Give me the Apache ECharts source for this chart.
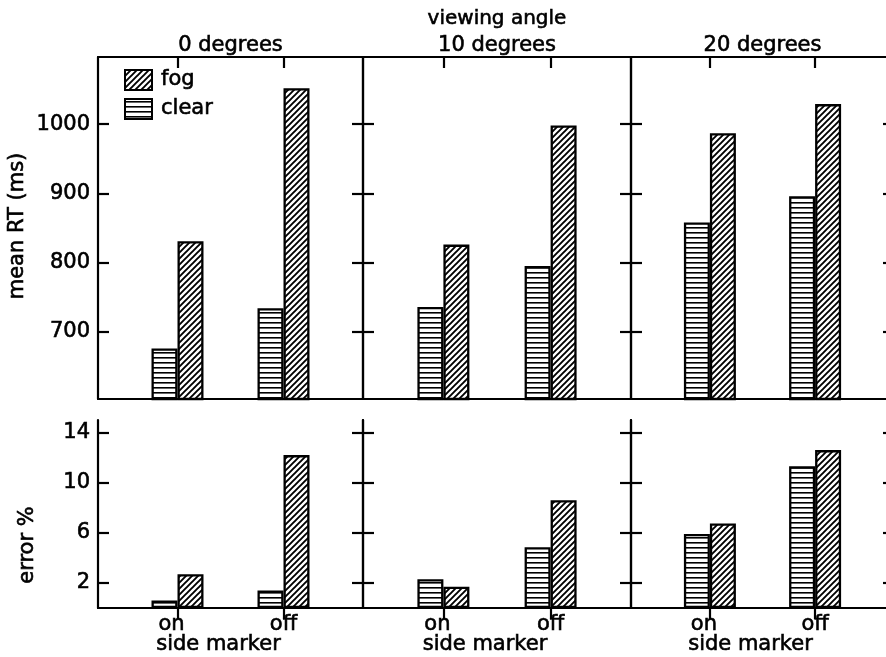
<!DOCTYPE html>
<html>
<head>
<meta charset="utf-8">
<script src="https://cdn.jsdelivr.net/npm/echarts@6/dist/echarts.min.js"></script>
<style>
html, body { margin: 0; padding: 0; background: #fff; }
#chart { width: 886px; height: 657px; }
</style>
</head>
<body>
<div id="chart"></div>
<script>
// data
var angles = ["0 degrees", "10 degrees", "20 degrees"];
var markerCats = ["", "on", "", "off", ""];
var legendNames = ["fog", "clear"];

// mean RT (ms), per viewing angle: [on, off]
var rtClear = [[676, 734], [736, 795], [858, 896]];
var rtFog = [[831, 1052], [826, 998], [987, 1029]];

// error %, per viewing angle: [on, off]
var errClear = [[0.6, 1.4], [2.3, 4.85], [5.9, 11.3]];
var errFog = [[2.7, 12.2], [1.7, 8.6], [6.75, 12.6]];

var rtTicks = [700, 800, 900, 1000];
var errTicks = [2, 6, 10, 14];

var FONT = "DejaVu Sans";
var colLeft = [98, 363, 631];
var colWidth = [265, 268, 263];
var rowTop = [57, 420];
var rowHeight = [342, 188];

// a little stroke makes the text look like the heavier print
var INK = { color: "#000", fontFamily: FONT, textBorderColor: "#000", textBorderWidth: 0.6 };

function makePattern(kind) {
	var c = document.createElement("canvas");
	var ctx;
	if (kind == "diag") {
		c.width = 6; c.height = 6;
		ctx = c.getContext("2d");
		ctx.fillStyle = "#fff";
		ctx.fillRect(0, 0, 6, 6);
		ctx.strokeStyle = "#000";
		ctx.lineWidth = 1.9;
		ctx.beginPath();
		ctx.moveTo(-1, 7); ctx.lineTo(7, -1);
		ctx.moveTo(-1, 1); ctx.lineTo(1, -1);
		ctx.moveTo(5, 7); ctx.lineTo(7, 5);
		ctx.stroke();
	} else {
		c.width = 5; c.height = 5;
		ctx = c.getContext("2d");
		ctx.fillStyle = "#fff";
		ctx.fillRect(0, 0, 5, 5);
		ctx.fillStyle = "#000";
		ctx.fillRect(0, 2, 5, 1.6);
	}
	return { image: c, repeat: "repeat" };
}

var fogFill = makePattern("diag");
var clearFill = makePattern("horiz");

// put the two values on the "on" and "off" slots
function slotData(pair) {
	return ["-", pair[0], "-", pair[1], "-"];
}

var grids = [], xAxes = [], yAxes = [], series = [];

for (var row = 0; row < 2; row++) {
	for (var col = 0; col < 3; col++) {
		var gi = grids.length;
		grids.push({
			left: colLeft[col], top: rowTop[row],
			width: colWidth[col], height: rowHeight[row],
			outerBoundsMode: "none", containLabel: false
		});

		var lineStyle = { color: "#000", width: 2.2 };

		// bottom axis: labels only
		xAxes.push({
			gridIndex: gi, type: "category", data: markerCats, position: "bottom",
			axisLine: { lineStyle: lineStyle },
			axisTick: { show: false },
			axisLabel: Object.assign({}, INK, {
				show: row == 1, fontSize: 21, margin: 6,
				interval: 0,
				formatter: function (v) { return v == "on" ? "{a|on}" : v; },
				rich: { a: Object.assign({}, INK, { fontSize: 21, padding: [0, 12, 0, 0] }) }
			})
		});
		// top axis: inside ticks only
		xAxes.push({
			gridIndex: gi, type: "category", data: markerCats, position: "top",
			axisLine: { lineStyle: lineStyle },
			axisTick: {
				show: true, inside: true, length: 11, alignWithLabel: true,
				interval: function (i, v) { return v != ""; },
				lineStyle: lineStyle
			},
			axisLabel: { show: false }
		});

		var yBase = {
			gridIndex: gi, type: "value",
			axisLine: { show: true, lineStyle: lineStyle },
			splitLine: { show: false }
		};
		var ticks = row == 0 ? rtTicks : errTicks;
		var yLeft = Object.assign({}, yBase, {
			position: "left",
			min: row == 0 ? 603 : 0, max: row == 0 ? 1097 : 15,
			axisTick: { show: true, inside: true, length: 11, lineStyle: lineStyle, customValues: ticks },
			axisLabel: Object.assign({}, INK, {
				show: col == 0, fontSize: 21, margin: 8,
				customValues: ticks,
				formatter: function (v) { return String(v); }
			})
		});
		var yRight = Object.assign({}, yLeft, {
			position: "right",
			axisLabel: { show: false, customValues: ticks }
		});
		yAxes.push(yLeft);
		yAxes.push(yRight);

		var clearVals = row == 0 ? rtClear[col] : errClear[col];
		var fogVals = row == 0 ? rtFog[col] : errFog[col];

		series.push({
			name: "clear", type: "bar", xAxisIndex: gi * 2, yAxisIndex: gi * 2,
			data: slotData(clearVals), barWidth: 26, barGap: "0%",
			itemStyle: { color: clearFill, borderColor: "#000", borderWidth: 2.3 },
			silent: true
		});
		series.push({
			name: "fog", type: "bar", xAxisIndex: gi * 2, yAxisIndex: gi * 2,
			data: slotData(fogVals), barWidth: 26, barGap: "0%",
			itemStyle: { color: fogFill, borderColor: "#000", borderWidth: 2.3 },
			silent: true
		});
	}
}

// titles and axis names as plain text
var texts = [];
function addText(x, y, str, size, rot) {
	texts.push({
		type: "text", x: x, y: y, rotation: rot || 0,
		style: {
			text: str, fill: "#000", stroke: "#000", lineWidth: 0.6,
			font: size + "px '" + FONT + "'", align: "center", verticalAlign: "middle"
		}
	});
}
addText(497, 19, "viewing angle", 20);
for (var k = 0; k < 3; k++) {
	addText(colLeft[k] + colWidth[k] / 2, 46, angles[k], 21);
	addText(colLeft[k] + colWidth[k] / 2 - 12, 645, "side marker", 21);
}
addText(18, 226, "mean RT (ms)", 21, Math.PI / 2);
addText(28, 545, "error %", 21, Math.PI / 2);

var chart = echarts.init(document.getElementById("chart"), null, { renderer: "canvas" });
chart.setOption({
	animation: false,
	backgroundColor: "#fff",
	legend: {
		data: legendNames, orient: "vertical", left: 124, top: 69,
		itemWidth: 27, itemHeight: 20, itemGap: 7, padding: 0,
		icon: "rect", selectedMode: false,
		textStyle: Object.assign({}, INK, { fontSize: 21, padding: [0, 0, 0, 4] })
	},
	grid: grids,
	xAxis: xAxes,
	yAxis: yAxes,
	series: series,
	graphic: texts
});
</script>
</body>
</html>
